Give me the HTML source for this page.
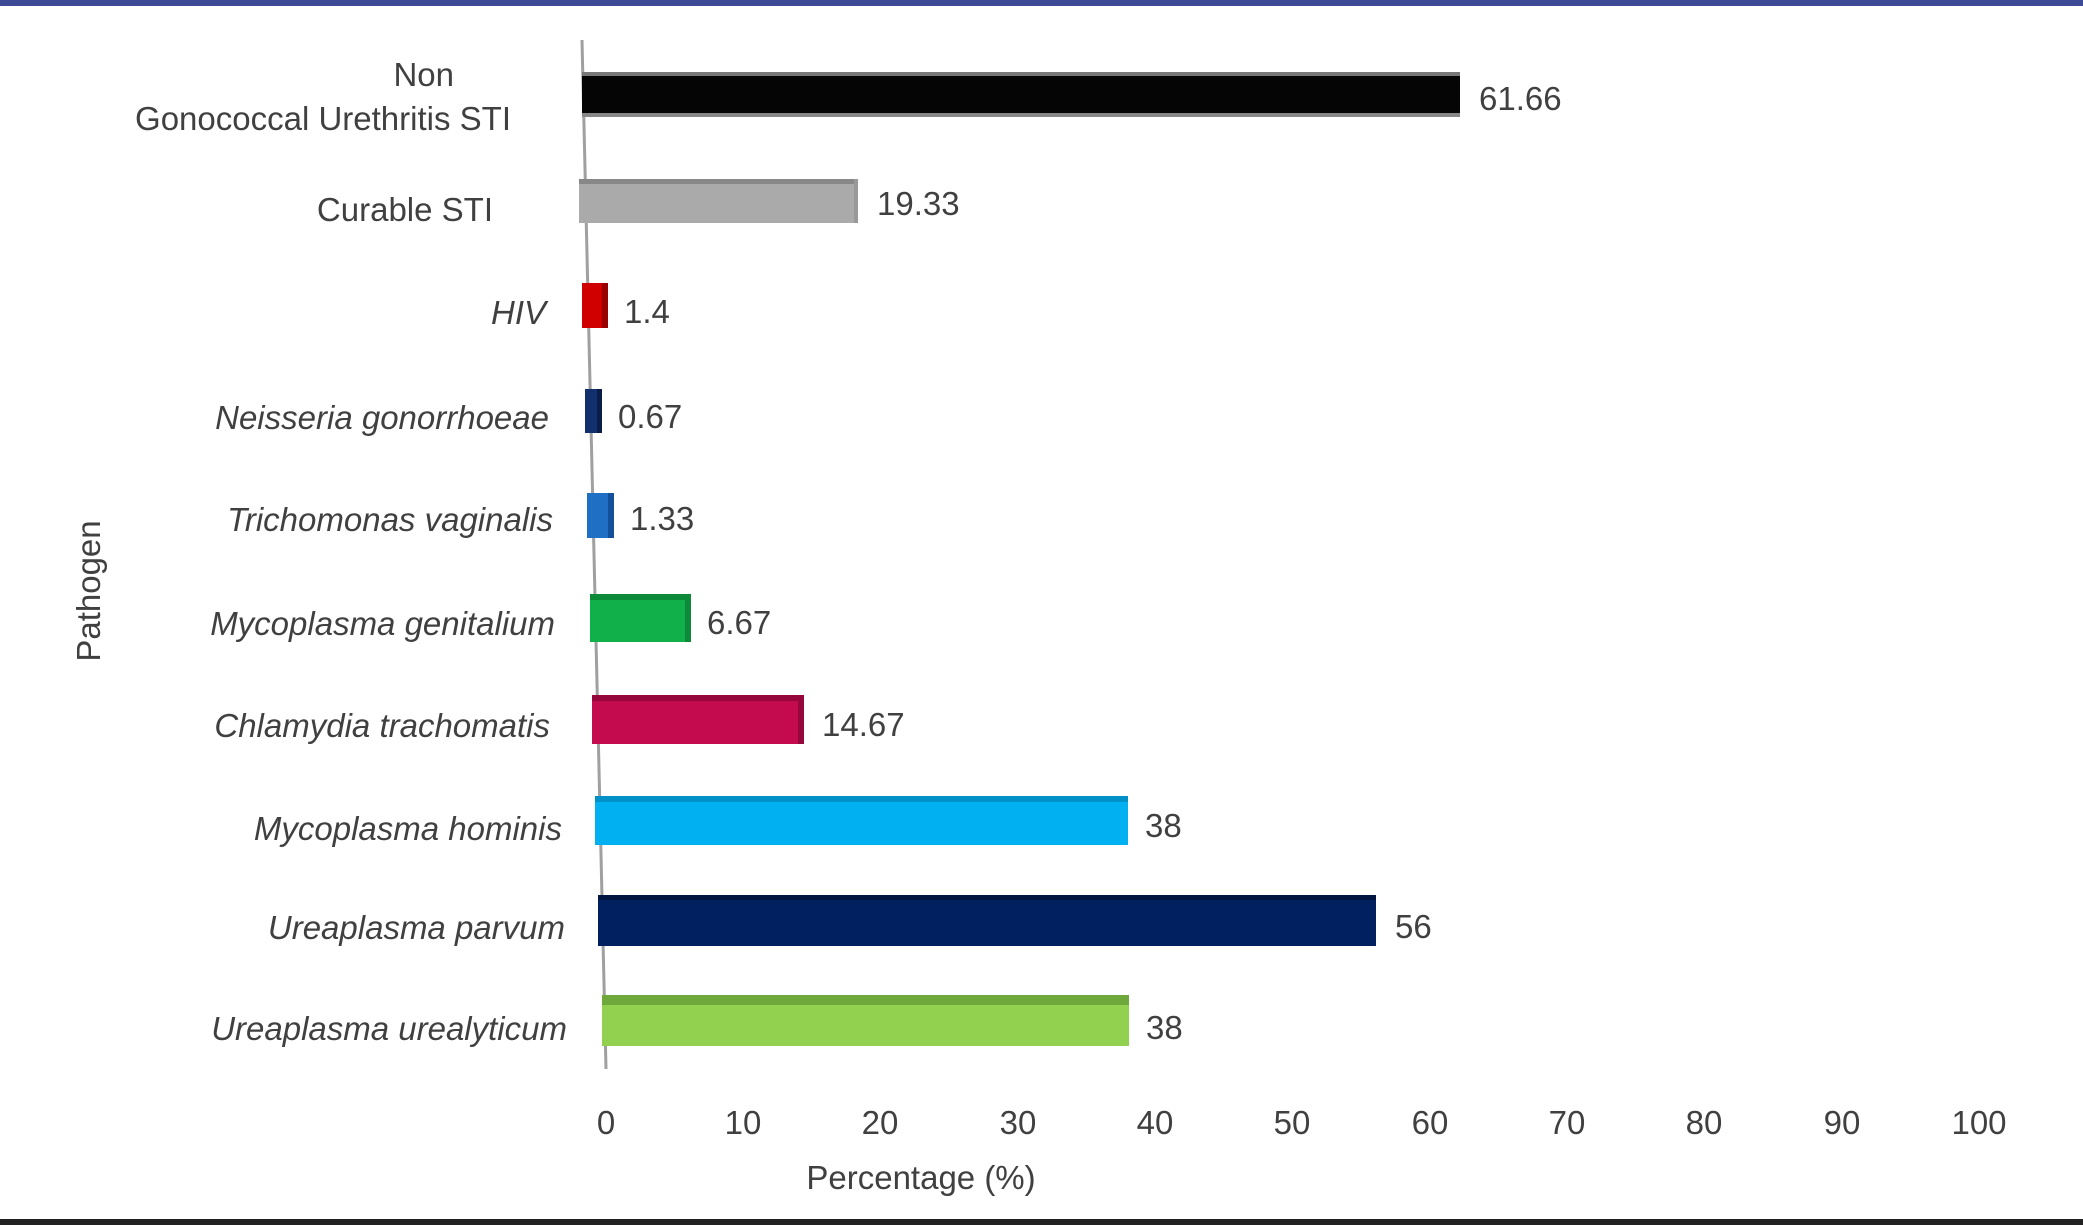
<!DOCTYPE html>
<html><head><meta charset="utf-8"><style>
html,body{margin:0;padding:0;background:#fff;}
svg{display:block;}
text{font-family:"Liberation Sans",sans-serif;fill:#404040;font-size:33px;}
.i{font-style:italic;}
</style></head><body>
<svg width="2083" height="1225" viewBox="0 0 2083 1225" xmlns="http://www.w3.org/2000/svg">
<rect x="0" y="0" width="2083" height="6" fill="#3f4a96"/>
<rect x="0" y="1219" width="2083" height="6" fill="#222"/>
<line x1="582" y1="40" x2="606" y2="1069" stroke="#a0a0a0" stroke-width="3"/>
<g>
<rect x="582" y="72" width="878" height="45" fill="#050505"/><rect x="582" y="72" width="878" height="4" fill="#777"/><rect x="582" y="113" width="878" height="4" fill="#888"/>
<rect x="579" y="179" width="279" height="44" fill="#aaaaaa"/><rect x="579" y="179" width="279" height="5" fill="#888"/><rect x="854" y="179" width="4" height="44" fill="#999"/>
<rect x="582" y="283" width="26" height="45" fill="#d00000"/><rect x="602" y="283" width="6" height="45" fill="#900"/>
<rect x="585" y="389" width="17" height="44" fill="#13306e"/><rect x="597" y="389" width="5" height="44" fill="#0a1d48"/>
<rect x="587" y="493" width="27" height="45" fill="#1f6fc5"/><rect x="608" y="493" width="6" height="45" fill="#14509a"/>
<rect x="590" y="594" width="101" height="48" fill="#11b04a"/><rect x="590" y="594" width="101" height="6" fill="#0c8a38"/><rect x="685" y="594" width="6" height="48" fill="#0c8a38"/>
<rect x="592" y="695" width="212" height="49" fill="#c30b4e"/><rect x="592" y="695" width="212" height="6" fill="#96083b"/><rect x="798" y="695" width="6" height="49" fill="#96083b"/>
<rect x="595" y="796" width="533" height="49" fill="#00b0f0"/><rect x="595" y="796" width="533" height="6" fill="#0090c8"/>
<rect x="598" y="895" width="778" height="51" fill="#002060"/><rect x="598" y="895" width="778" height="5" fill="#001540"/>
<rect x="602" y="995" width="527" height="51" fill="#92d050"/><rect x="602" y="995" width="527" height="10" fill="#6fa83a"/>
</g>
<g>
<text x="1479" y="110">61.66</text>
<text x="877" y="215">19.33</text>
<text x="624" y="323">1.4</text>
<text x="618" y="428">0.67</text>
<text x="630" y="530">1.33</text>
<text x="707" y="634">6.67</text>
<text x="822" y="736">14.67</text>
<text x="1145" y="837">38</text>
<text x="1395" y="938">56</text>
<text x="1146" y="1039">38</text>
</g>
<g text-anchor="end">
<text x="454" y="86">Non</text>
<text x="511" y="130">Gonococcal Urethritis STI</text>
<text x="493" y="221">Curable STI</text>
<text class="i" x="546" y="324">HIV</text>
<text class="i" x="549" y="429">Neisseria gonorrhoeae</text>
<text class="i" x="553" y="531">Trichomonas vaginalis</text>
<text class="i" x="555" y="635">Mycoplasma genitalium</text>
<text class="i" x="550" y="737">Chlamydia trachomatis</text>
<text class="i" x="562" y="840">Mycoplasma hominis</text>
<text class="i" x="565" y="939">Ureaplasma parvum</text>
<text class="i" x="567" y="1040">Ureaplasma urealyticum</text>
</g>
<g text-anchor="middle">
<text x="606" y="1134">0</text>
<text x="743" y="1134">10</text>
<text x="880" y="1134">20</text>
<text x="1018" y="1134">30</text>
<text x="1155" y="1134">40</text>
<text x="1292" y="1134">50</text>
<text x="1430" y="1134">60</text>
<text x="1567" y="1134">70</text>
<text x="1704" y="1134">80</text>
<text x="1842" y="1134">90</text>
<text x="1979" y="1134">100</text>
<text x="921" y="1189">Percentage (%)</text>
<text x="0" y="0" transform="translate(100,591) rotate(-90)">Pathogen</text>
</g>
</svg>
</body></html>
